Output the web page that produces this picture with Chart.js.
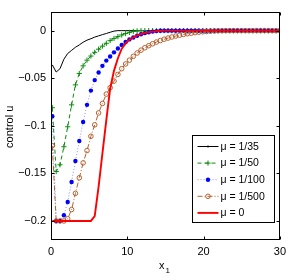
<!DOCTYPE html>
<html>
<head>
<meta charset="utf-8">
<script src="https://cdn.jsdelivr.net/npm/chart.js@4.4.1/dist/chart.umd.min.js"></script>
<style>
html,body{margin:0;padding:0;background:#fff;}
canvas{display:block;}
</style>
</head>
<body>
<canvas id="c" width="291" height="276" style="width:291px;height:276px"></canvas>
<script>
// ---- data ----
const xGrid = [0.17,0.68,1.18,1.69,2.19,2.70,3.20,3.71,4.21,4.72,
  5.23,5.73,6.24,6.74,7.25,7.75,8.26,8.77,9.27,9.78,
  10.28,10.79,11.29,11.80,12.30,12.81,13.32,13.82,14.33,14.83,
  15.34,15.84,16.35,16.86,17.36,17.87,18.37,18.88,19.38,19.89,
  20.39,20.90,21.41,21.91,22.42,22.92,23.43,23.93,24.44,24.95,
  25.45,25.96,26.46,26.97,27.47,27.98,28.49,28.99,29.50,30.00];

const mu35 = [-0.036,-0.0435,-0.040,-0.030,-0.024,-0.0207,-0.0175,-0.015,-0.0122,-0.010,
  -0.0085,-0.0068,-0.0055,-0.0042,-0.003,-0.0017,-0.0005,0,0,0,
  0,0,0,0,0,0,0,0,0,0, 0,0,0,0,0,0,0,0,0,0,
  0,0,0,0,0,0,0,0,0,0, 0,0,0,0,0,0,0,0,0,0];

const mu50 = [-0.081,-0.148,-0.141,-0.122,-0.101,-0.078,-0.057,-0.045,-0.037,-0.031,
  -0.0267,-0.0228,-0.0195,-0.0163,-0.0133,-0.0105,-0.0082,-0.0063,-0.0046,-0.003,
  -0.0018,-0.0008,-0.0003,0,0,0,0,0,0,0, 0,0,0,0,0,0,0,0,0,0,
  0,0,0,0,0,0,0,0,0,0, 0,0,0,0,0,0,0,0,0,0];

const mu100 = [-0.09,-0.2,-0.2,-0.194,-0.180,-0.159,-0.137,-0.116,-0.096,-0.078,
  -0.063,-0.052,-0.044,-0.037,-0.0315,-0.0272,-0.0228,-0.0187,-0.015,-0.012,
  -0.0092,-0.0072,-0.0053,-0.0038,-0.0026,-0.0017,-0.001,-0.0005,-0.0002,0,
  0,0,0,0,0,0,0,0,0,0, 0,0,0,0,0,0,0,0,0,0, 0,0,0,0,0,0,0,0,0,0];

const mu500 = [-0.121,-0.2,-0.2,-0.2,-0.1976,-0.188,-0.171,-0.1546,-0.139,-0.126,
  -0.111,-0.099,-0.0865,-0.0765,-0.0667,-0.060,-0.053,-0.046,-0.040,-0.035,
  -0.031,-0.027,-0.0235,-0.0205,-0.018,-0.0158,-0.0138,-0.012,-0.0104,-0.009,
  -0.0078,-0.0067,-0.0057,-0.0048,-0.004,-0.0033,-0.0027,-0.0021,-0.0016,-0.0012,
  -0.0009,-0.0006,-0.0004,-0.0002,-0.0001,0,0,0,0,0, 0,0,0,0,0,0,0,0,0,0];

const mu0 = [-0.2,-0.2,-0.2,-0.2,-0.2,-0.2,-0.2,-0.2,-0.2,-0.2,
  -0.2,-0.195,-0.164,-0.129,-0.094,-0.061,-0.042,-0.029,-0.019,-0.0135,
  -0.0095,-0.007,-0.005,-0.0035,-0.0024,-0.0016,-0.001,-0.0006,-0.0003,0,
  0,0,0,0,0,0,0,0,0,0, 0,0,0,0,0,0,0,0,0,0, 0,0,0,0,0,0,0,0,0,0];

const seriesLabels = ['\u03bc = 1/35','\u03bc = 1/50','\u03bc = 1/100','\u03bc = 1/500','\u03bc = 0'];
const xTicks = [0,10,20,30];
const yTicks = [-0.2,-0.15,-0.1,-0.05,0];
const yTickLabels = ['\u22120.2','\u22120.15','\u22120.1','\u22120.05','0'];
const yLabel = 'control u';
const xLabelMain = 'x';
const xLabelSub = '1';

// ---- chart ----
const FONT = "'Liberation Sans', Arial, Helvetica, sans-serif";
Chart.defaults.font.family = FONT;
Chart.defaults.font.size = 11;
Chart.defaults.color = '#000';

const pts = arr => xGrid.map((x,i)=>({x:x, y:arr[i]}));

const datasets = [
  {label:seriesLabels[0], data:pts(mu35), borderColor:'#000000', borderWidth:1,
   pointRadius:0, pointStyle:'circle', order:5, mk:'dot'},
  {label:seriesLabels[1], data:pts(mu50), borderColor:'#0b8a0b', borderWidth:1, borderDash:[4,3],
   pointStyle:'cross', pointRadius:2.6, pointBorderColor:'#0b8a0b', pointBorderWidth:1, order:4, mk:'cross'},
  {label:seriesLabels[2], data:pts(mu100), borderColor:'rgba(70,70,255,0.6)', borderWidth:1, borderDash:[1,2],
   pointStyle:'circle', pointRadius:2.2, pointBackgroundColor:'#0000ff', pointBorderColor:'#0000ff', pointBorderWidth:0, order:3, mk:'fdot', mkColor:'#0000ff'},
  {label:seriesLabels[3], data:pts(mu500), borderColor:'#b5602e', borderWidth:1, borderDash:[5,2,1,2],
   pointStyle:'circle', pointRadius:2.3, pointBackgroundColor:'rgba(0,0,0,0)', pointBorderColor:'#b5602e', pointBorderWidth:1, order:2, mk:'ocircle'},
  {label:seriesLabels[4], data:pts(mu0), borderColor:'#ff0000', borderWidth:1.9,
   pointRadius:0, order:1, mk:null}
];

function drawMarker(ctx, kind, x, y, color){
  ctx.save();
  ctx.setLineDash([]);
  ctx.strokeStyle = color; ctx.fillStyle = color; ctx.lineWidth = 1;
  if (kind === 'cross') {
    ctx.beginPath(); ctx.moveTo(x-2.6,y); ctx.lineTo(x+2.6,y); ctx.moveTo(x,y-2.6); ctx.lineTo(x,y+2.6); ctx.stroke();
  } else if (kind === 'fdot') {
    ctx.beginPath(); ctx.arc(x,y,2.2,0,Math.PI*2); ctx.fill();
  } else if (kind === 'ocircle') {
    ctx.beginPath(); ctx.arc(x,y,2.3,0,Math.PI*2); ctx.stroke();
  } else if (kind === 'dot') {
    ctx.beginPath(); ctx.arc(x,y,0.9,0,Math.PI*2); ctx.fill();
  }
  ctx.restore();
}

const framePlugin = {
  id:'frame',
  afterDraw(chart){
    const ctx = chart.ctx, a = chart.chartArea, xs = chart.scales.x, ys = chart.scales.y;
    ctx.save();
    // box
    ctx.strokeStyle = '#000'; ctx.lineWidth = 1; ctx.setLineDash([]);
    const L = Math.round(a.left)+0.5, T = Math.round(a.top)+0.5, R = Math.round(a.right)-0.5, B = Math.round(a.bottom)-0.5;
    ctx.strokeRect(L, T, R-L, B-T);
    // inward tick marks
    const tl = 3;
    ctx.beginPath();
    xTicks.forEach(v=>{
      const px = Math.round(xs.getPixelForValue(v))+0.5;
      ctx.moveTo(px,B); ctx.lineTo(px,B-tl);
      ctx.moveTo(px,T); ctx.lineTo(px,T+tl);
    });
    yTicks.forEach(v=>{
      const py = Math.round(ys.getPixelForValue(v))+0.5;
      ctx.moveTo(L,py); ctx.lineTo(L+tl,py);
      ctx.moveTo(R,py); ctx.lineTo(R-tl,py);
    });
    ctx.stroke();

    // legend
    const lw = 82, lh = 87;
    const lx = Math.round(a.right - 6 - lw) + 0.5, ly = Math.round(a.bottom - 18 - lh) + 0.5;
    ctx.fillStyle = '#fff';
    ctx.fillRect(lx, ly, lw, lh);
    ctx.strokeStyle = '#000';
    ctx.strokeRect(lx, ly, lw, lh);
    ctx.font = '10.5px ' + FONT;
    ctx.textBaseline = 'middle';
    ctx.textAlign = 'left';
    chart.data.datasets.forEach((d,i)=>{
      const yy = ly + 11 + i*16.6;
      const x1 = lx + 5, x2 = lx + 26;
      ctx.save();
      ctx.strokeStyle = d.borderColor; ctx.lineWidth = d.borderWidth;
      ctx.setLineDash(d.borderDash || []);
      ctx.beginPath(); ctx.moveTo(x1, yy); ctx.lineTo(x2, yy); ctx.stroke();
      ctx.restore();
      if (d.mk) drawMarker(ctx, d.mk, (x1+x2)/2, yy, d.mk==='fdot' ? d.mkColor : (d.pointBorderColor || d.borderColor));
      ctx.fillStyle = '#000';
      ctx.fillText(d.label, x2 + 2, yy + 0.5);
    });

    // axis titles
    ctx.fillStyle = '#000';
    ctx.font = '11px ' + FONT;
    ctx.save();
    ctx.translate(13, (a.top + a.bottom)/2 + 1);
    ctx.rotate(-Math.PI/2);
    ctx.textAlign = 'center';
    ctx.textBaseline = 'alphabetic';
    ctx.fillText(yLabel, 0, 0);
    ctx.restore();
    ctx.textAlign = 'left';
    ctx.textBaseline = 'alphabetic';
    ctx.font = '11px ' + FONT;
    ctx.fillText(xLabelMain, 159, 268.5);
    ctx.font = '8px ' + FONT;
    ctx.fillText(xLabelSub, 165.5, 272.5);
    ctx.restore();
  }
};

new Chart(document.getElementById('c'), {
  type:'line',
  data:{datasets:datasets},
  options:{
    responsive:false,
    animation:false,
    devicePixelRatio:1,
    events:[],
    layout:{padding:{left:0, right:9, top:10, bottom:0}},
    elements:{line:{tension:0}},
    plugins:{legend:{display:false}, tooltip:{enabled:false}},
    scales:{
      x:{
        type:'linear', min:0, max:30,
        afterBuildTicks: s => { s.ticks = xTicks.map(v=>({value:v})); },
        afterFit: s => { s.height = 36; },
        grid:{display:false, drawTicks:false},
        border:{display:false},
        ticks:{padding:5, maxRotation:0, autoSkip:false, font:{size:11}, color:'#000'}
      },
      y:{
        type:'linear', min:-0.22, max:0.02,
        afterBuildTicks: s => { s.ticks = yTicks.map(v=>({value:v})); },
        afterFit: s => { s.width = 51; },
        grid:{display:false, drawTicks:false},
        border:{display:false},
        ticks:{padding:5, autoSkip:false, font:{size:11}, color:'#000',
          callback: v => { const i = yTicks.findIndex(t => Math.abs(t - v) < 1e-9); return i >= 0 ? yTickLabels[i] : ''; }}
      }
    }
  },
  plugins:[framePlugin]
});
</script>
</body>
</html>
